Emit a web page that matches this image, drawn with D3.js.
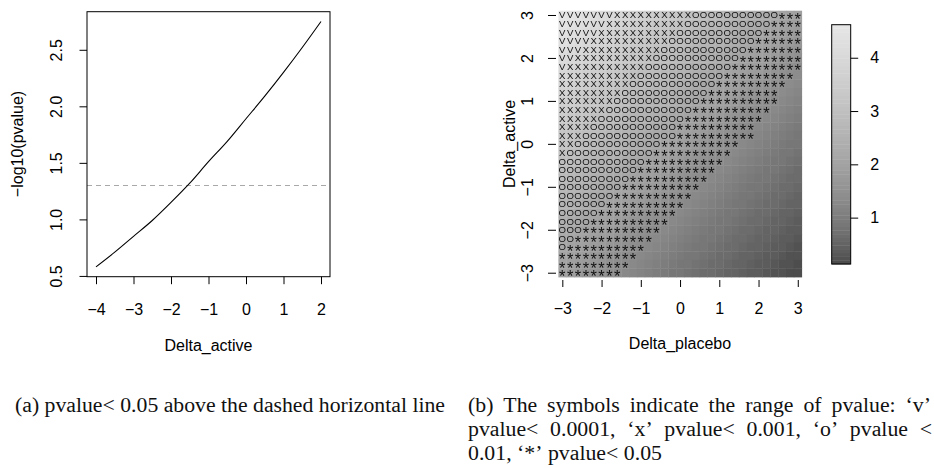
<!DOCTYPE html>
<html>
<head>
<meta charset="utf-8">
<title>pvalue by Delta_active and Delta_placebo</title>
<script src="https://cdn.jsdelivr.net/npm/d3@7"></script>
<style>
  body { margin: 0; background: #fff; }
  svg text { font-family: "Liberation Sans", Arial, sans-serif; }
  .axis text, .title { font-size: 16px; fill: #000; }
  .cap { font-family: "Liberation Serif", "Times New Roman", serif; font-size: 20px; fill: #111; }
  .sym { fill: #111; }
</style>
</head>
<body>
<svg id="fig" width="934" height="468">
  <defs>
    <filter id="mono" x="0" y="0" width="1" height="1">
      <feColorMatrix type="saturate" values="0"/>
    </filter>
  </defs>
</svg>
<script>
// ---- panel (a): -log10(pvalue) along Delta_active ----
var deltaActive = [-4, -3.5, -3, -2.5, -2, -1.5, -1, -0.5, 0, 0.5, 1, 1.5, 2];
var logP = [0.58, 0.71, 0.85, 0.99, 1.15, 1.32, 1.51, 1.69, 1.89, 2.09, 2.30, 2.52, 2.75];
var sigLine = 1.3;   // -log10(0.05)
var xTicksA = [-4, -3, -2, -1, 0, 1, 2];
var yTicksA = [0.5, 1.0, 1.5, 2.0, 2.5];

// ---- panel (b): grid of Delta_placebo (columns) x Delta_active (rows, top to bottom) ----
var placeboGrid = [-3,-2.8,-2.6,-2.4,-2.2,-2,-1.8,-1.6,-1.4,-1.2,-1,-0.8,-0.6,-0.4,-0.2,0,0.2,0.4,0.6,0.8,1,1.2,1.4,1.6,1.8,2,2.2,2.4,2.6,2.8,3];
var activeGrid = [3,2.8,2.6,2.4,2.2,2,1.8,1.6,1.4,1.2,1,0.8,0.6,0.4,0.2,0,-0.2,-0.4,-0.6,-0.8,-1,-1.2,-1.4,-1.6,-1.8,-2,-2.2,-2.4,-2.6,-2.8,-3];

// -log10(pvalue), one row per activeGrid value
var logPGrid = [
  [4.62,4.52,4.42,4.32,4.22,4.12,4.02,3.92,3.82,3.72,3.62,3.53,3.43,3.34,3.24,3.15,3.06,2.98,2.89,2.81,2.72,2.64,2.55,2.47,2.38,2.30,2.22,2.14,2.06,1.98,1.90],
  [4.52,4.42,4.32,4.22,4.12,4.02,3.92,3.82,3.72,3.62,3.53,3.43,3.34,3.24,3.15,3.06,2.98,2.89,2.81,2.72,2.64,2.55,2.47,2.38,2.30,2.22,2.14,2.06,1.98,1.90,1.82],
  [4.42,4.32,4.22,4.12,4.02,3.92,3.82,3.72,3.62,3.53,3.43,3.34,3.24,3.15,3.06,2.98,2.89,2.81,2.72,2.64,2.55,2.47,2.38,2.30,2.22,2.14,2.06,1.98,1.90,1.82,1.75],
  [4.32,4.22,4.12,4.02,3.92,3.82,3.72,3.62,3.53,3.43,3.34,3.24,3.15,3.06,2.98,2.89,2.81,2.72,2.64,2.55,2.47,2.38,2.30,2.22,2.14,2.06,1.98,1.90,1.82,1.75,1.67],
  [4.22,4.12,4.02,3.92,3.82,3.72,3.62,3.53,3.43,3.34,3.24,3.15,3.06,2.98,2.89,2.81,2.72,2.64,2.55,2.47,2.38,2.30,2.22,2.14,2.06,1.98,1.90,1.82,1.75,1.67,1.60],
  [4.12,4.02,3.92,3.82,3.72,3.62,3.53,3.43,3.34,3.24,3.15,3.06,2.98,2.89,2.81,2.72,2.64,2.55,2.47,2.38,2.30,2.22,2.14,2.06,1.98,1.90,1.82,1.75,1.67,1.60,1.52],
  [4.02,3.92,3.82,3.72,3.62,3.53,3.43,3.34,3.24,3.15,3.06,2.98,2.89,2.81,2.72,2.64,2.55,2.47,2.38,2.30,2.22,2.14,2.06,1.98,1.90,1.82,1.75,1.67,1.60,1.52,1.45],
  [3.92,3.82,3.72,3.62,3.53,3.43,3.34,3.24,3.15,3.06,2.98,2.89,2.81,2.72,2.64,2.55,2.47,2.38,2.30,2.22,2.14,2.06,1.98,1.90,1.82,1.75,1.67,1.60,1.52,1.45,1.38],
  [3.82,3.72,3.62,3.53,3.43,3.34,3.24,3.15,3.06,2.98,2.89,2.81,2.72,2.64,2.55,2.47,2.38,2.30,2.22,2.14,2.06,1.98,1.90,1.82,1.75,1.67,1.60,1.52,1.45,1.38,1.29],
  [3.72,3.62,3.53,3.43,3.34,3.24,3.15,3.06,2.98,2.89,2.81,2.72,2.64,2.55,2.47,2.38,2.30,2.22,2.14,2.06,1.98,1.90,1.82,1.75,1.67,1.60,1.52,1.45,1.38,1.29,1.22],
  [3.62,3.53,3.43,3.34,3.24,3.15,3.06,2.98,2.89,2.81,2.72,2.64,2.55,2.47,2.38,2.30,2.22,2.14,2.06,1.98,1.90,1.82,1.75,1.67,1.60,1.52,1.45,1.38,1.29,1.22,1.14],
  [3.53,3.43,3.34,3.24,3.15,3.06,2.98,2.89,2.81,2.72,2.64,2.55,2.47,2.38,2.30,2.22,2.14,2.06,1.98,1.90,1.82,1.75,1.67,1.60,1.52,1.45,1.38,1.29,1.22,1.14,1.09],
  [3.43,3.34,3.24,3.15,3.06,2.98,2.89,2.81,2.72,2.64,2.55,2.47,2.38,2.30,2.22,2.14,2.06,1.98,1.90,1.82,1.75,1.67,1.60,1.52,1.45,1.38,1.29,1.22,1.14,1.09,1.03],
  [3.34,3.24,3.15,3.06,2.98,2.89,2.81,2.72,2.64,2.55,2.47,2.38,2.30,2.22,2.14,2.06,1.98,1.90,1.82,1.75,1.67,1.60,1.52,1.45,1.38,1.29,1.22,1.14,1.09,1.03,0.97],
  [3.24,3.15,3.06,2.98,2.89,2.81,2.72,2.64,2.55,2.47,2.38,2.30,2.22,2.14,2.06,1.98,1.90,1.82,1.75,1.67,1.60,1.52,1.45,1.38,1.29,1.22,1.14,1.09,1.03,0.97,0.90],
  [3.15,3.06,2.98,2.89,2.81,2.72,2.64,2.55,2.47,2.38,2.30,2.22,2.14,2.06,1.98,1.90,1.82,1.75,1.67,1.60,1.52,1.45,1.38,1.29,1.22,1.14,1.09,1.03,0.97,0.90,0.84],
  [3.06,2.98,2.89,2.81,2.72,2.64,2.55,2.47,2.38,2.30,2.22,2.14,2.06,1.98,1.90,1.82,1.75,1.67,1.60,1.52,1.45,1.38,1.29,1.22,1.14,1.09,1.03,0.97,0.90,0.84,0.79],
  [2.98,2.89,2.81,2.72,2.64,2.55,2.47,2.38,2.30,2.22,2.14,2.06,1.98,1.90,1.82,1.75,1.67,1.60,1.52,1.45,1.38,1.29,1.22,1.14,1.09,1.03,0.97,0.90,0.84,0.79,0.74],
  [2.89,2.81,2.72,2.64,2.55,2.47,2.38,2.30,2.22,2.14,2.06,1.98,1.90,1.82,1.75,1.67,1.60,1.52,1.45,1.38,1.29,1.22,1.14,1.09,1.03,0.97,0.90,0.84,0.79,0.74,0.68],
  [2.81,2.72,2.64,2.55,2.47,2.38,2.30,2.22,2.14,2.06,1.98,1.90,1.82,1.75,1.67,1.60,1.52,1.45,1.38,1.29,1.22,1.14,1.09,1.03,0.97,0.90,0.84,0.79,0.74,0.68,0.63],
  [2.72,2.64,2.55,2.47,2.38,2.30,2.22,2.14,2.06,1.98,1.90,1.82,1.75,1.67,1.60,1.52,1.45,1.38,1.29,1.22,1.14,1.09,1.03,0.97,0.90,0.84,0.79,0.74,0.68,0.63,0.58],
  [2.64,2.55,2.47,2.38,2.30,2.22,2.14,2.06,1.98,1.90,1.82,1.75,1.67,1.60,1.52,1.45,1.38,1.29,1.22,1.14,1.09,1.03,0.97,0.90,0.84,0.79,0.74,0.68,0.63,0.58,0.53],
  [2.55,2.47,2.38,2.30,2.22,2.14,2.06,1.98,1.90,1.82,1.75,1.67,1.60,1.52,1.45,1.38,1.29,1.22,1.14,1.09,1.03,0.97,0.90,0.84,0.79,0.74,0.68,0.63,0.58,0.53,0.49],
  [2.47,2.38,2.30,2.22,2.14,2.06,1.98,1.90,1.82,1.75,1.67,1.60,1.52,1.45,1.38,1.29,1.22,1.14,1.09,1.03,0.97,0.90,0.84,0.79,0.74,0.68,0.63,0.58,0.53,0.49,0.44],
  [2.38,2.30,2.22,2.14,2.06,1.98,1.90,1.82,1.75,1.67,1.60,1.52,1.45,1.38,1.29,1.22,1.14,1.09,1.03,0.97,0.90,0.84,0.79,0.74,0.68,0.63,0.58,0.53,0.49,0.44,0.40],
  [2.30,2.22,2.14,2.06,1.98,1.90,1.82,1.75,1.67,1.60,1.52,1.45,1.38,1.29,1.22,1.14,1.09,1.03,0.97,0.90,0.84,0.79,0.74,0.68,0.63,0.58,0.53,0.49,0.44,0.40,0.35],
  [2.22,2.14,2.06,1.98,1.90,1.82,1.75,1.67,1.60,1.52,1.45,1.38,1.29,1.22,1.14,1.09,1.03,0.97,0.90,0.84,0.79,0.74,0.68,0.63,0.58,0.53,0.49,0.44,0.40,0.35,0.30],
  [2.14,2.06,1.98,1.90,1.82,1.75,1.67,1.60,1.52,1.45,1.38,1.29,1.22,1.14,1.09,1.03,0.97,0.90,0.84,0.79,0.74,0.68,0.63,0.58,0.53,0.49,0.44,0.40,0.35,0.30,0.26],
  [2.06,1.98,1.90,1.82,1.75,1.67,1.60,1.52,1.45,1.38,1.29,1.22,1.14,1.09,1.03,0.97,0.90,0.84,0.79,0.74,0.68,0.63,0.58,0.53,0.49,0.44,0.40,0.35,0.30,0.26,0.22],
  [1.98,1.90,1.82,1.75,1.67,1.60,1.52,1.45,1.38,1.29,1.22,1.14,1.09,1.03,0.97,0.90,0.84,0.79,0.74,0.68,0.63,0.58,0.53,0.49,0.44,0.40,0.35,0.30,0.26,0.22,0.17],
  [1.90,1.82,1.75,1.67,1.60,1.52,1.45,1.38,1.29,1.22,1.14,1.09,1.03,0.97,0.90,0.84,0.79,0.74,0.68,0.63,0.58,0.53,0.49,0.44,0.40,0.35,0.30,0.26,0.22,0.17,0.13]
];

// symbol shown in each cell (v < 0.0001, x < 0.001, o < 0.01, * < 0.05, '.' none)
var symbolRows = [
  "vvvvvvvxxxxxxxxxxooooooooooo***",
  "vvvvvvxxxxxxxxxxooooooooooo****",
  "vvvvvxxxxxxxxxxooooooooooo*****",
  "vvvvxxxxxxxxxxooooooooooo******",
  "vvvxxxxxxxxxxooooooooooo*******",
  "vvxxxxxxxxxxooooooooooo********",
  "vxxxxxxxxxxooooooooooo*********",
  "xxxxxxxxxxooooooooooo*********",
  "xxxxxxxxxooooooooooo*********",
  "xxxxxxxxooooooooooo*********",
  "xxxxxxxooooooooooo**********",
  "xxxxxxooooooooooo**********",
  "xxxxxooooooooooo**********",
  "xxxxooooooooooo**********",
  "xxxoooooooooooo**********",
  "xxooooooooooo**********",
  "xooooooooooo**********",
  "ooooooooooo**********",
  "oooooooooo**********",
  "ooooooooo**********",
  "oooooooo**********",
  "ooooooo**********",
  "oooooo**********",
  "ooooo**********",
  "oooo**********",
  "ooo**********",
  "oo**********",
  "o**********",
  "**********",
  "*********",
  "********"
];
var xTicksB = [-3, -2, -1, 0, 1, 2, 3];
var yTicksB = [-3, -2, -1, 0, 1, 2, 3];
var legendTicks = [1, 2, 3, 4];

var captionA = "(a) pvalue< 0.05 above the dashed horizontal line";
var captionB = [
  ["(b)", "The", "symbols", "indicate", "the", "range", "of", "pvalue:", "\u2018v\u2019"],
  ["pvalue<", "0.0001,", "\u2018x\u2019", "pvalue<", "0.001,", "\u2018o\u2019", "pvalue", "<"],
  ["0.01,", "\u2018*\u2019", "pvalue<", "0.05"]
];

var svg = d3.select('#fig');
var minus = function(d) { return d < 0 ? '\u2212' + Math.abs(d) : String(d); };

// R style axis range: 4% padding each side
function padded(ext) {
  var p = (ext[1] - ext[0]) * 0.04;
  return [ext[0] - p, ext[1] + p];
}

// ================= panel (a) =================
var xA = d3.scaleLinear().domain(padded(d3.extent(deltaActive))).range([87, 330]);
var yA = d3.scaleLinear().domain(padded(d3.extent(logP))).range([276.7, 11.7]);

svg.append('line')
    .attr('x1', 87).attr('x2', 330)
    .attr('y1', yA(sigLine)).attr('y2', yA(sigLine))
    .attr('stroke', '#a8a8a8').attr('stroke-width', 1.1)
    .attr('stroke-dasharray', '5,4');

svg.append('path')
    .datum(d3.zip(deltaActive, logP))
    .attr('fill', 'none').attr('stroke', '#000').attr('stroke-width', 1.1)
    .attr('d', d3.line().x(function(d) { return xA(d[0]); }).y(function(d) { return yA(d[1]); })
        .curve(d3.curveMonotoneX));

svg.append('rect')
    .attr('x', 87).attr('y', 11.7).attr('width', 243).attr('height', 265)
    .attr('fill', 'none').attr('stroke', '#000').attr('stroke-width', 1);

var gxA = svg.append('g').attr('class', 'axis').attr('transform', 'translate(0,276.7)')
    .call(d3.axisBottom(xA).tickValues(xTicksA).tickSize(7.5).tickPadding(19).tickFormat(minus));
gxA.select('.domain').remove();

var gyA = svg.append('g').attr('class', 'axis').attr('transform', 'translate(87,0)')
    .call(d3.axisLeft(yA).tickValues(yTicksA).tickSize(7.5).tickFormat(d3.format('.1f')));
gyA.select('.domain').remove();
gyA.selectAll('.tick text')
    .attr('x', 0).attr('dy', 0).attr('text-anchor', 'middle')
    .attr('transform', 'translate(-25,0) rotate(-90)');

svg.append('text').attr('class', 'title')
    .attr('x', 208.5).attr('y', 351).attr('text-anchor', 'middle')
    .text('Delta_active');
svg.append('text').attr('class', 'title')
    .attr('text-anchor', 'middle')
    .attr('transform', 'translate(23,144) rotate(-90)')
    .text('\u2212log10(pvalue)');

// ================= panel (b) =================
var xB = d3.scaleLinear().domain([-3.1, 3.1]).range([558.4, 801.7]);
var yB = d3.scaleLinear().domain([-3.1, 3.1]).range([277, 10.7]);

var lo = d3.min(logPGrid, function(r) { return d3.min(r); });
var hi = d3.max(logPGrid, function(r) { return d3.max(r); });
var nLevel = 64;
// R gray.colors(): gamma-corrected ramp from 0.3 to 0.9
var g0 = Math.pow(0.3, 2.2), g1 = Math.pow(0.9, 2.2);
function levelColor(k) {
  var g = Math.pow(g0 + (k / (nLevel - 1)) * (g1 - g0), 1 / 2.2) * 255;
  return d3.rgb(g, g, g).formatHex();
}
function grayOf(v) {
  var k = Math.min(nLevel - 1, Math.floor((v - lo) / (hi - lo) * nLevel));
  return levelColor(k);
}

var cells = [];
activeGrid.forEach(function(a, i) {
  placeboGrid.forEach(function(p, j) {
    cells.push({ p: p, a: a, v: logPGrid[i][j], s: symbolRows[i].charAt(j) });
  });
});

var cellW = xB(0.1) - xB(-0.1), cellH = yB(-0.1) - yB(0.1);
svg.append('g').selectAll('rect')
    .data(cells).enter().append('rect')
    .attr('x', function(d) { return xB(d.p) - cellW / 2; })
    .attr('y', function(d) { return yB(d.a) - cellH / 2; })
    .attr('width', cellW + 0.4).attr('height', cellH + 0.4)
    .attr('fill', function(d) { return grayOf(d.v); });

svg.append('g').attr('filter', 'url(#mono)').selectAll('text')
    .data(cells.filter(function(d) { return d.s && d.s !== '.'; }))
    .enter().append('text')
    .attr('class', 'sym')
    .attr('text-anchor', 'middle')
    .attr('x', function(d) { return xB(d.p); })
    .attr('y', function(d) { return yB(d.a) + (d.s === '*' ? 9.6 : 3.5); })
    .attr('font-size', function(d) { return d.s === '*' ? 16.5 : 9.6; })
    .text(function(d) { return d.s === '*' ? '*' : d.s.toUpperCase(); });

var gxB = svg.append('g').attr('class', 'axis').attr('transform', 'translate(0,280)')
    .call(d3.axisBottom(xB).tickValues(xTicksB).tickSize(7).tickPadding(16).tickFormat(minus));
gxB.select('.domain').remove();

var gyB = svg.append('g').attr('class', 'axis').attr('transform', 'translate(556,0)')
    .call(d3.axisLeft(yB).tickValues(yTicksB).tickSize(8).tickFormat(minus));
gyB.select('.domain').remove();
gyB.selectAll('.tick text')
    .attr('x', 0).attr('dy', 0).attr('text-anchor', 'middle')
    .attr('transform', 'translate(-23,0) rotate(-90)');

svg.append('text').attr('class', 'title')
    .attr('x', 680).attr('y', 349).attr('text-anchor', 'middle')
    .text('Delta_placebo');
svg.append('text').attr('class', 'title')
    .attr('text-anchor', 'middle')
    .attr('transform', 'translate(515,144) rotate(-90)')
    .text('Delta_active');

// colour legend
var yL = d3.scaleLinear().domain([lo, hi]).range([264, 24.7]);
var steps = d3.range(nLevel);
var stepH = (hi - lo) / nLevel;
svg.append('g').selectAll('rect')
    .data(steps).enter().append('rect')
    .attr('x', 831.7).attr('width', 19)
    .attr('y', function(k) { return yL(lo + (k + 1) * stepH); })
    .attr('height', function(k) { return yL(lo + k * stepH) - yL(lo + (k + 1) * stepH) + 0.4; })
    .attr('fill', function(k) { return levelColor(k); });
svg.append('rect')
    .attr('x', 831.7).attr('y', 24.7).attr('width', 19).attr('height', 239.3)
    .attr('fill', 'none').attr('stroke', '#000').attr('stroke-width', 1);
var gL = svg.append('g').attr('class', 'axis').attr('transform', 'translate(850.7,0)')
    .call(d3.axisRight(yL).tickValues(legendTicks).tickSize(7.5).tickPadding(12).tickFormat(d3.format('d')));
gL.select('.domain').remove();

// ================= captions =================
var SX = 1.09;
svg.append('text').attr('class', 'cap')
    .attr('x', 15).attr('y', 412)
    .attr('textLength', 430).attr('lengthAdjust', 'spacingAndGlyphs')
    .text(captionA);

function captionLine(words, x0, x1, y, justify) {
  var g = svg.append('g');
  var items = words.map(function(w) {
    var t = g.append('text').attr('class', 'cap').attr('y', y).text(w);
    return { t: t, w: t.node().getComputedTextLength() * SX };
  });
  var space = 20 * 0.25 * SX;
  var total = d3.sum(items, function(d) { return d.w; });
  var gap = justify ? (x1 - x0 - total) / (items.length - 1) : space;
  var x = x0;
  items.forEach(function(d) {
    d.t.attr('x', x).attr('textLength', d.w).attr('lengthAdjust', 'spacingAndGlyphs');
    x += d.w + gap;
  });
}
captionLine(captionB[0], 468, 931, 412, true);
captionLine(captionB[1], 468, 932, 436, true);
captionLine(captionB[2], 468, 932, 460, false);
</script>
</body>
</html>
